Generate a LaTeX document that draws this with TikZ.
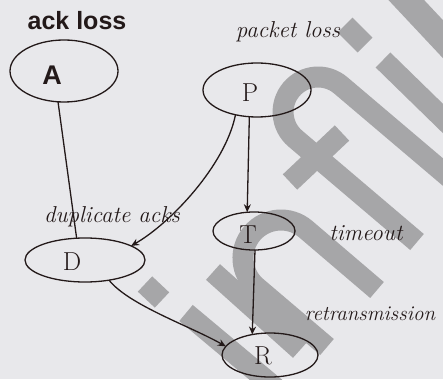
\documentclass[tikz,border=0pt]{standalone}
\usepackage{fontspec}
\usetikzlibrary{shapes.geometric,arrows.meta}
\newfontfamily\headfont{Liberation Sans}
\definecolor{paper}{RGB}{232,232,235}
\definecolor{ink}{RGB}{35,25,25}
\definecolor{wmark}{RGB}{166,166,168}
\begin{document}
\begin{tikzpicture}[x=1pt,y=-1pt,
  every node/.style={inner sep=0pt, outer sep=0pt, text=ink},
  oval/.style 2 args={draw=ink, line width=1.3pt, ellipse, minimum width=#1, minimum height=#2},
  hand/.style={font=\fontsize{23}{26}\selectfont\itshape},
  letter/.style={font=\fontsize{26}{28}\selectfont},
  wm/.style={draw=wmark, line width=21pt},
  link/.style={draw=ink, line width=1.3pt},
  arr/.style={link, -{Stealth[length=8pt,width=7pt]}}]
\useasboundingbox[fill=paper] (0,0) rectangle (443,379);
% watermark
\draw[wm, line width=26pt] (395,-12) -- (470,68);
\draw[wm] (345,25) -- (365,45);
\draw[wm] (383,60) -- (465,140);
\draw[wm] (470,195) -- (340.8,85.4) arc[start angle=310.5, end angle=130.5, radius=35] -- (417,242);
\draw[wm] (290,182) -- (342,133);
\draw[wm] (327,347) -- (256.3,286.9) arc[start angle=130.5, end angle=310.5, radius=38] -- (377,290);
\draw[wm] (213,272) -- (300,350);
\draw[wm] (145,284) -- (162,300);
\draw[wm] (186,313) -- (290,400);
% nodes
\node[font=\headfont\bfseries\fontsize{25}{28}\selectfont, anchor=base] (ackloss) at (77,30) {ack loss};
\node[oval={108pt}{62pt}] (a) at (64,71) {};
\node[font=\headfont\bfseries\fontsize{27}{30}\selectfont] (alab) at (52,75) {A};
\node[hand, anchor=base] (plabel) at (288,38) {packet loss};
\node[oval={108pt}{54pt}] (p) at (257,90) {};
\node[letter] (plab) at (250,93) {P};
\node[oval={82pt}{38pt}] (t) at (254,231) {};
\node[letter] (tlab) at (248,235) {T};
\node[hand, anchor=base] (tlabel) at (366,240) {timeout};
\node[oval={120pt}{44pt}] (d) at (85,260) {};
\node[letter] (dlab) at (72,262) {D};
\node[hand, anchor=base] (dlabel) at (112,222) {duplicate acks};
\node[oval={96pt}{44pt}] (r) at (270,355) {};
\node[letter] (rlab) at (263,356) {R};
\node[hand, font=\fontsize{21}{24}\selectfont\itshape, anchor=base] (rlabel) at (370,320) {retransmission};
% connectors
\draw[link] (a.-101) -- (d.111);
\draw[arr] (p.-106) -- (t.110);
\draw[arr] (p.-131) .. controls +(-10,50) and +(40,-23) .. (d.17);
\draw[arr] (t.-87) -- (r.131);
\draw[arr] (d.-40) .. controls +(20,25) and +(-35,-20) .. (r.169);
\end{tikzpicture}
\end{document}
